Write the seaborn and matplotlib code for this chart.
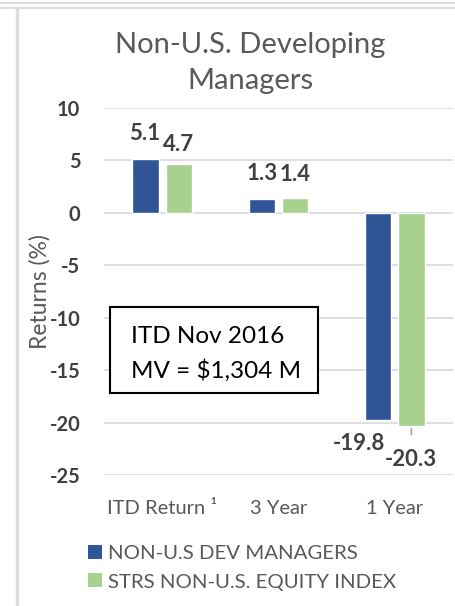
import numpy as np
import pandas as pd
import matplotlib
matplotlib.use('Agg')
import matplotlib.pyplot as plt
import seaborn as sns
from matplotlib.patches import Rectangle, Patch
from matplotlib.lines import Line2D

# data
periods = ['ITD Return \u00b9', '3 Year', '1 Year']
series_names = ['NON-U.S DEV MANAGERS', 'STRS NON-U.S. EQUITY INDEX']
dev_managers = [5.1, 1.3, -19.8]
equity_index = [4.7, 1.4, -20.3]
colors = ['#2F5597', '#A9D18E']

df = pd.DataFrame({
    'period': periods * 2,
    'series': [series_names[0]] * 3 + [series_names[1]] * 3,
    'value': dev_managers + equity_index,
})

sns.set_theme(style='white')
plt.rcParams['font.family'] = ['Lato', 'DejaVu Sans']
plt.rcParams['axes.unicode_minus'] = False

W, H = 456, 606
fig = plt.figure(figsize=(W / 100, H / 100), dpi=100)
ax = fig.add_axes([104 / W, 1 - 475 / H, (453 - 104) / W, (475 - 108) / H])

sns.barplot(data=df, x='period', y='value', hue='series', palette=colors,
            width=0.57, gap=0.21, ax=ax, legend=False, saturation=1)

ax.set_ylim(-25, 10)
ax.set_xlim(-0.5, 2.5)
ax.set_yticks(np.arange(-25, 11, 5))
ax.yaxis.grid(True, color='#D9D9D9', linewidth=1.2)
ax.set_axisbelow(True)
for s in ax.spines.values():
    s.set_visible(False)
ax.set_xlabel('')
ax.set_ylabel('')
ax.tick_params(axis='y', length=0, pad=17, labelsize=14.5, labelcolor='#404040')
ax.tick_params(axis='x', length=0, pad=18, labelsize=14.5, labelcolor='#595959')
for lab in ax.get_yticklabels():
    lab.set_fontweight('bold')

# data labels (pixel offsets from bar end)
offsets = [[(-1, 26), (0, 19)], [(0, 26), (0, 24)], [(-19, -23), (-1, -34)]]
for j, cont in enumerate(ax.containers):
    for i, bar in enumerate(cont):
        v = bar.get_y() + bar.get_height()
        dx, dy = offsets[i][j]
        ax.annotate(f'{v:.1f}', (bar.get_x() + bar.get_width() / 2, v),
                    xytext=(dx * 0.72, dy * 0.72), textcoords='offset points',
                    ha='center', va='center', fontsize=16, fontweight='bold',
                    color='#404040')
# leader line for -20.3
gbar = ax.containers[1][2]
gx = gbar.get_x() + gbar.get_width() / 2
gv = gbar.get_y() + gbar.get_height()
ax.annotate('', (gx, gv), xytext=(gx, gv - 1.1),
            arrowprops=dict(arrowstyle='-', color='#A6A6A6', lw=1.2))

# title
fig.text(250 / W, 1 - 45 / H, 'Non-U.S. Developing', ha='center', va='center',
         fontsize=21, color='#595959')
fig.text(250 / W, 1 - 81 / H, 'Managers', ha='center', va='center',
         fontsize=21, color='#595959')

# y label
fig.text(40 / W, 1 - 292 / H, 'Returns (%)', rotation=90, ha='center',
         va='center', fontsize=16.5, color='#595959')

# info box
fig.patches.append(Rectangle((110 / W, 1 - 393 / H), 208 / W, 86 / H,
                             transform=fig.transFigure, facecolor='white',
                             edgecolor='black', linewidth=1.5, zorder=5))
fig.text(131 / W, 1 - 336 / H, 'ITD Nov 2016', ha='left', va='center',
         fontsize=17.5, color='black', zorder=6)
fig.text(131 / W, 1 - 371 / H, 'MV = $1,304 M', ha='left', va='center',
         fontsize=17.5, color='black', zorder=6)

# legend
handles = [Patch(facecolor=c, edgecolor='none') for c in colors]
fig.legend(handles, series_names, loc='upper left',
           bbox_to_anchor=(88 / W, 1 - 545 / H), frameon=False,
           fontsize=14.7, labelcolor='#595959', handlelength=0.68,
           handleheight=0.68, handletextpad=0.3, labelspacing=0.55,
           borderpad=0, borderaxespad=0)

# frame lines of the original panel
fig.add_artist(Line2D([0, 1], [1 - 2.5 / H, 1 - 2.5 / H], color='#DDDDDD', lw=1.5))
fig.add_artist(Line2D([0, 1], [1 - 7.5 / H, 1 - 7.5 / H], color='#DDDDDD', lw=1.5))
fig.add_artist(Line2D([16.5 / W, 16.5 / W], [0, 1 - 7.5 / H], color='#DDDDDD', lw=2.5))

fig.savefig('out.png', dpi=100)
